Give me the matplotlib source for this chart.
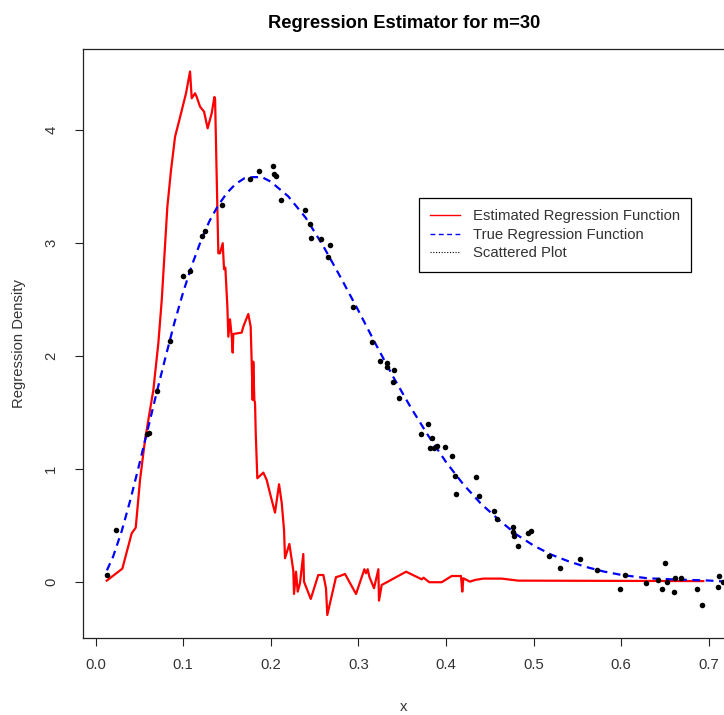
import matplotlib
matplotlib.use('Agg')
import matplotlib.pyplot as plt
from matplotlib.lines import Line2D

plt.rcParams['font.family'] = ['Liberation Sans', 'DejaVu Sans']

# kernel regression estimate (m=30)
est_x = [0.0128, 0.0306, 0.0413, 0.0459, 0.0508, 0.0565, 0.0660, 0.0717, 0.0756, 0.0820,
         0.0862, 0.0908, 0.0957, 0.1033, 0.1079, 0.1098, 0.1136, 0.1155, 0.1193, 0.1239,
         0.1280, 0.1326, 0.1357, 0.1365, 0.1380, 0.1402, 0.1421, 0.1452, 0.1467, 0.1482,
         0.1505, 0.1516, 0.1535, 0.1555, 0.1566, 0.1573, 0.1669, 0.1687, 0.1744, 0.1771,
         0.1783, 0.1794, 0.1801, 0.1813, 0.1821, 0.1829, 0.1847, 0.1916, 0.1954, 0.2011,
         0.2049, 0.2095, 0.2126, 0.2152, 0.2163, 0.2213, 0.2240, 0.2258, 0.2266, 0.2289,
         0.2308, 0.2334, 0.2372, 0.2380, 0.2457, 0.2543, 0.2601, 0.2631, 0.2646, 0.2745,
         0.2790, 0.2848, 0.2974, 0.3069, 0.3088, 0.3107, 0.3126, 0.3179, 0.3229, 0.3236,
         0.3267, 0.3316, 0.3545, 0.3724, 0.3745, 0.3810, 0.3952, 0.4066, 0.4172, 0.4187,
         0.4199, 0.4275, 0.4332, 0.4427, 0.4637, 0.4826, 0.6938]
est_y = [0.009, 0.115, 0.428, 0.478, 0.900, 1.254, 1.696, 2.110, 2.493, 3.318,
         3.643, 3.938, 4.086, 4.322, 4.515, 4.278, 4.322, 4.290, 4.204, 4.159,
         4.012, 4.145, 4.290, 4.270, 3.700, 2.906, 2.906, 2.995, 2.765, 2.780,
         2.434, 2.168, 2.322, 2.168, 2.027, 2.192, 2.204, 2.257, 2.369, 2.257,
         1.933, 1.608, 1.947, 1.608, 1.579, 1.313, 0.915, 0.965, 0.900, 0.723,
         0.611, 0.862, 0.694, 0.458, 0.207, 0.334, 0.192, 0.097, -0.109, 0.088,
         -0.088, -0.014, 0.245, 0.000, -0.153, 0.059, 0.059, -0.058, -0.295, 0.040,
         0.050, 0.068, -0.109, 0.110, 0.074, 0.110, 0.044, -0.058, 0.110, -0.168,
         -0.029, -0.009, 0.088, 0.021, 0.035, -0.005, -0.005, 0.050, 0.050, -0.088,
         0.030, 0.000, 0.015, 0.027, 0.027, 0.009, 0.005]

# true regression function
true_x = [0.013, 0.02, 0.03, 0.04, 0.05, 0.06, 0.07, 0.08, 0.09, 0.10, 0.11, 0.12,
          0.13, 0.14, 0.15, 0.16, 0.17, 0.18, 0.19, 0.20, 0.22, 0.24, 0.26, 0.28,
          0.30, 0.32, 0.34, 0.36, 0.38, 0.40, 0.42, 0.44, 0.46, 0.48, 0.50, 0.52,
          0.54, 0.56, 0.58, 0.60, 0.63, 0.66, 0.70, 0.72]
true_y = [0.10, 0.22, 0.45, 0.73, 1.04, 1.36, 1.68, 1.99, 2.29, 2.56, 2.80, 3.01,
          3.19, 3.33, 3.44, 3.52, 3.57, 3.58, 3.58, 3.54, 3.41, 3.22, 2.97, 2.69,
          2.40, 2.10, 1.81, 1.54, 1.29, 1.06, 0.86, 0.69, 0.55, 0.42, 0.32, 0.24,
          0.18, 0.13, 0.09, 0.06, 0.03, 0.02, 0.01, 0.00]

# observed sample
obs_x = [0.0135, 0.0230, 0.0591, 0.0614, 0.0706, 0.0847, 0.0999, 0.1079, 0.1219, 0.1250,
         0.1440, 0.1767, 0.1866, 0.2023, 0.2034, 0.2064, 0.2121, 0.2392, 0.2449, 0.2460,
         0.2574, 0.2658, 0.2677, 0.2943, 0.3160, 0.3248, 0.3324, 0.3331, 0.3393, 0.3404,
         0.3465, 0.3719, 0.3799, 0.3818, 0.3841, 0.3860, 0.3895, 0.3993, 0.4070, 0.4104,
         0.4115, 0.4347, 0.4378, 0.4553, 0.4587, 0.4762, 0.4769, 0.4781, 0.4820, 0.4937,
         0.4968, 0.5180, 0.5299, 0.5531, 0.5725, 0.5991, 0.6048, 0.6288, 0.6418, 0.6463,
         0.6505, 0.6520, 0.6607, 0.6619, 0.6684, 0.6866, 0.6924, 0.7110, 0.7121, 0.7167]
obs_y = [0.059, 0.457, 1.307, 1.313, 1.688, 2.127, 2.708, 2.752, 3.062, 3.100,
         3.334, 3.564, 3.635, 3.679, 3.605, 3.593, 3.375, 3.289, 3.168, 3.039,
         3.030, 2.871, 2.980, 2.434, 2.119, 1.950, 1.903, 1.933, 1.765, 1.871,
         1.628, 1.307, 1.393, 1.186, 1.272, 1.186, 1.204, 1.195, 1.110, 0.933,
         0.779, 0.927, 0.761, 0.623, 0.555, 0.481, 0.442, 0.404, 0.313, 0.434,
         0.449, 0.225, 0.121, 0.198, 0.104, -0.062, 0.059, -0.009, 0.012, -0.062,
         0.165, 0.000, -0.094, 0.033, 0.033, -0.062, -0.209, -0.044, 0.050, 0.000]

x_ticks = [0.0, 0.1, 0.2, 0.3, 0.4, 0.5, 0.6, 0.7]
y_ticks = [0, 1, 2, 3, 4]

fs = 10.7
fig = plt.figure(figsize=(7.24, 7.15), dpi=100)
ax = fig.add_axes([83 / 724, 1 - 637.7 / 715, 642 / 724, 588.7 / 715])

ax.plot(est_x, est_y, color='#ff0000', lw=1.6)
ax.plot(true_x, true_y, color='#0000ff', lw=1.6, dashes=(3.5, 2.5))
ax.scatter(obs_x, obs_y, s=16, color='black', zorder=3, linewidths=0)

ax.set_xlim(-0.0143, 0.7186)
ax.set_ylim(-0.496, 4.714)
ax.set_xticks(x_ticks)
ax.set_yticks(y_ticks)
for sp in ax.spines.values():
    sp.set_linewidth(0.9)
    sp.set_color('#222222')
ax.tick_params(direction='out', length=5.8, width=0.8, color='#222222',
               labelsize=fs, labelcolor='#333333')
ax.tick_params(axis='x', pad=9)
ax.tick_params(axis='y', labelrotation=90, pad=12)
for lab in ax.get_yticklabels():
    lab.set_va('center')

ax.set_title('Regression Estimator for m=30', fontsize=13.2, fontweight='bold', pad=15)
ax.set_xlabel('x', fontsize=fs, color='#333333', labelpad=20)
ax.set_ylabel('Regression Density', fontsize=fs, color='#333333', labelpad=13)

handles = [
    Line2D([], [], color='#ff0000', lw=1.0),
    Line2D([], [], color='#0000ff', lw=1.0, dashes=(3.5, 2.5)),
    Line2D([], [], color='black', lw=0.8, dashes=(1, 1.5)),
]
labels = ['Estimated Regression Function', 'True Regression Function', 'Scattered Plot']
leg = ax.legend(handles, labels, loc='upper left', fontsize=fs,
                bbox_to_anchor=(419.3 / 724, 1 - 198.3 / 715), bbox_transform=fig.transFigure,
                borderaxespad=0, fancybox=False, framealpha=1, edgecolor='black',
                handlelength=2.0, handletextpad=0.85, labelspacing=0.3, borderpad=0.75)
leg.get_frame().set_linewidth(0.9)
for t in leg.get_texts():
    t.set_color('#333333')

fig.savefig('out.png', dpi=100)
